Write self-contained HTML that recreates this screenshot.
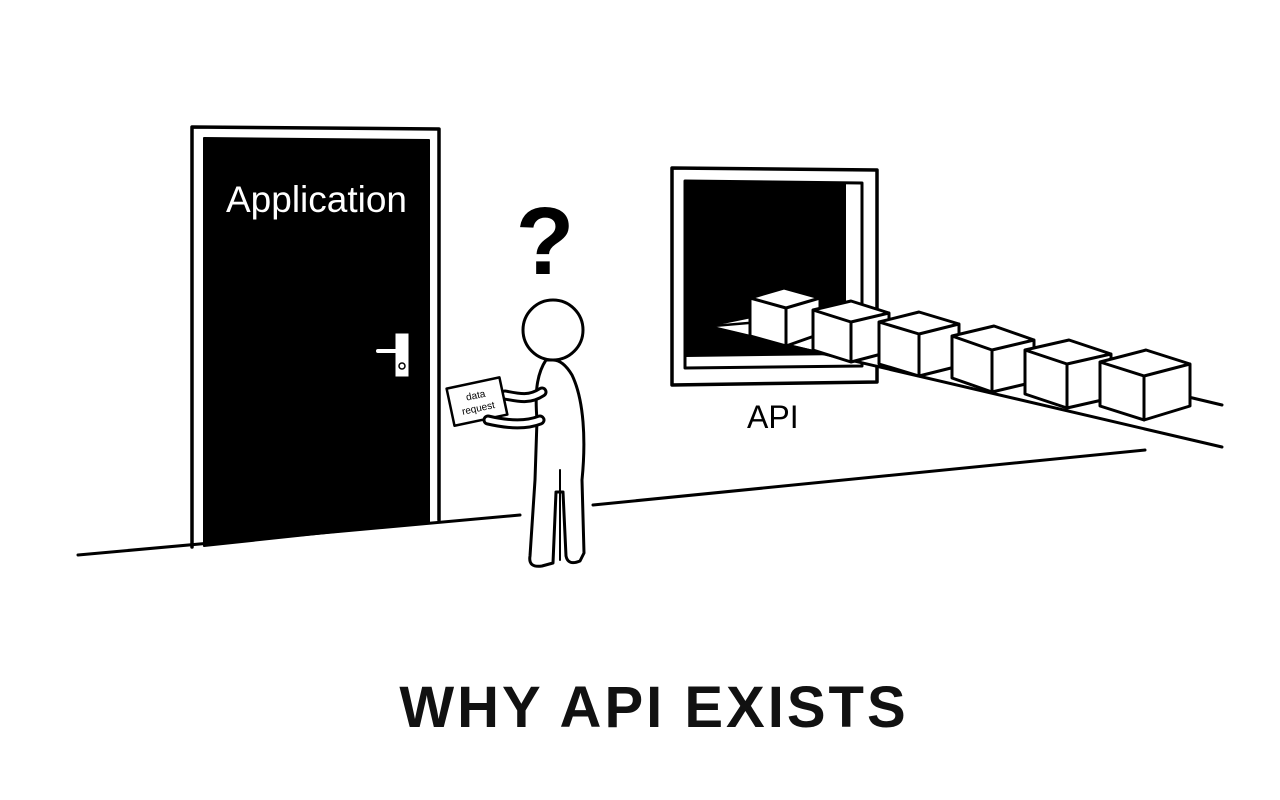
<!DOCTYPE html>
<html><head><meta charset="utf-8"><style>
html,body{margin:0;padding:0;background:#fff;width:1280px;height:800px;overflow:hidden}
svg{display:block}
</style></head><body>
<svg width="1280" height="800" viewBox="0 0 1280 800" xmlns="http://www.w3.org/2000/svg">
<g stroke="#000" stroke-linejoin="round" stroke-linecap="round">
  <line x1="78" y1="555" x2="520" y2="515" stroke-width="3"/>
  <line x1="593" y1="505" x2="1145" y2="450" stroke-width="3"/>
  <polyline points="192,547 192,127 439,129 439,520" fill="none" stroke-width="3.5"/>
  <polygon points="204,138 429,140 429,522 204,546" fill="#000" stroke-width="2"/>
  <rect x="395" y="333" width="14" height="44" fill="#fff" stroke-width="1"/>
  <path d="M378,351 L404,351" stroke="#fff" stroke-width="4"/>
  <circle cx="402" cy="366" r="3" fill="none" stroke-width="1.5"/>
  <polygon points="672,168 877,170 877,382 672,385" fill="#fff" stroke-width="3.5"/>
  <polygon points="685,181 862,183 862,366 685,368" fill="#fff" stroke-width="3"/>
  <polygon points="686,182 846,184 846,355 686,357" fill="#000" stroke="none"/>
  <polygon points="713,326 752,318 1222,402 1222,447" fill="#fff" stroke="none"/>
  <line x1="713" y1="328" x2="1222" y2="447" stroke-width="3"/>
  <line x1="713" y1="326" x2="760" y2="322" stroke-width="2.5"/>
  <line x1="1180" y1="395" x2="1222" y2="405" stroke-width="3"/>
</g>
<g stroke="#000" stroke-width="3" fill="#fff" stroke-linejoin="round">
  <g transform="translate(750,298)"><path d="M0,0 L36,10 L70,0 L34,-10 Z M0,0 L0,38 L36,48 L36,10 Z M36,10 L70,0 L70,36 L36,48 Z"/></g>
  <g transform="translate(813,310)"><path d="M0,0 L38,12 L76,3 L38,-9 Z M0,0 L0,40 L38,52 L38,12 Z M38,12 L76,3 L76,42 L38,52 Z"/></g>
  <g transform="translate(879,322)"><path d="M0,0 L40,12 L80,2 L40,-10 Z M0,0 L0,42 L40,54 L40,12 Z M40,12 L80,2 L80,44 L40,54 Z"/></g>
  <g transform="translate(952,336)"><path d="M0,0 L40,14 L82,4 L42,-10 Z M0,0 L0,42 L40,56 L40,14 Z M40,14 L82,4 L82,46 L40,56 Z"/></g>
  <g transform="translate(1025,350)"><path d="M0,0 L42,14 L86,4 L44,-10 Z M0,0 L0,44 L42,58 L42,14 Z M42,14 L86,4 L86,48 L42,58 Z"/></g>
  <g transform="translate(1100,362)"><path d="M0,0 L44,14 L90,2 L46,-12 Z M0,0 L0,44 L44,58 L44,14 Z M44,14 L90,2 L90,44 L44,58 Z"/></g>
</g>
<g stroke="#000" stroke-width="3" fill="#fff" stroke-linejoin="round" stroke-linecap="round">
  <path d="M546,360 C536,375 535,395 537,420 L535,480 L530,556 Q528,568 542,566 L553,563 L556,492 L563,492 L566,556 Q568,566 580,561 L584,553 L582,480 C586,440 584,400 572,375 C566,365 560,360 553,360 Z"/>
  <path d="M560,470 L560,560" fill="none" stroke-width="2"/>
  <circle cx="553" cy="330" r="30"/>
  <path d="M542,392 C530,400 520,398 505,395" fill="none" stroke-width="11"/>
  <path d="M542,392 C530,400 520,398 505,395" fill="none" stroke="#fff" stroke-width="5"/>
  <g transform="rotate(-12 475 402)">
    <rect x="450" y="383" width="54" height="38" stroke-width="2.5"/>
    <text x="477" y="399" font-family="Liberation Sans, sans-serif" font-size="10" text-anchor="middle" fill="#000" stroke="none">data</text>
    <text x="477" y="412" font-family="Liberation Sans, sans-serif" font-size="10" text-anchor="middle" fill="#000" stroke="none">request</text>
  </g>
  <path d="M540,420 C525,426 505,424 488,420" fill="none" stroke-width="11"/>
  <path d="M540,420 C525,426 505,424 488,420" fill="none" stroke="#fff" stroke-width="5"/>
</g>
<text x="545" y="274" font-family="Liberation Sans, sans-serif" font-weight="bold" font-size="96" text-anchor="middle" fill="#000">?</text>
<text x="226" y="212" font-family="Liberation Sans, sans-serif" font-size="37" fill="#fff">Application</text>
<text x="747" y="428" font-family="Liberation Sans, sans-serif" font-size="32" fill="#000">API</text>
<text x="654" y="727" font-family="Liberation Sans, sans-serif" font-weight="bold" font-size="58" letter-spacing="3" text-anchor="middle" fill="#111">WHY API EXISTS</text>
</svg>
</body></html>
